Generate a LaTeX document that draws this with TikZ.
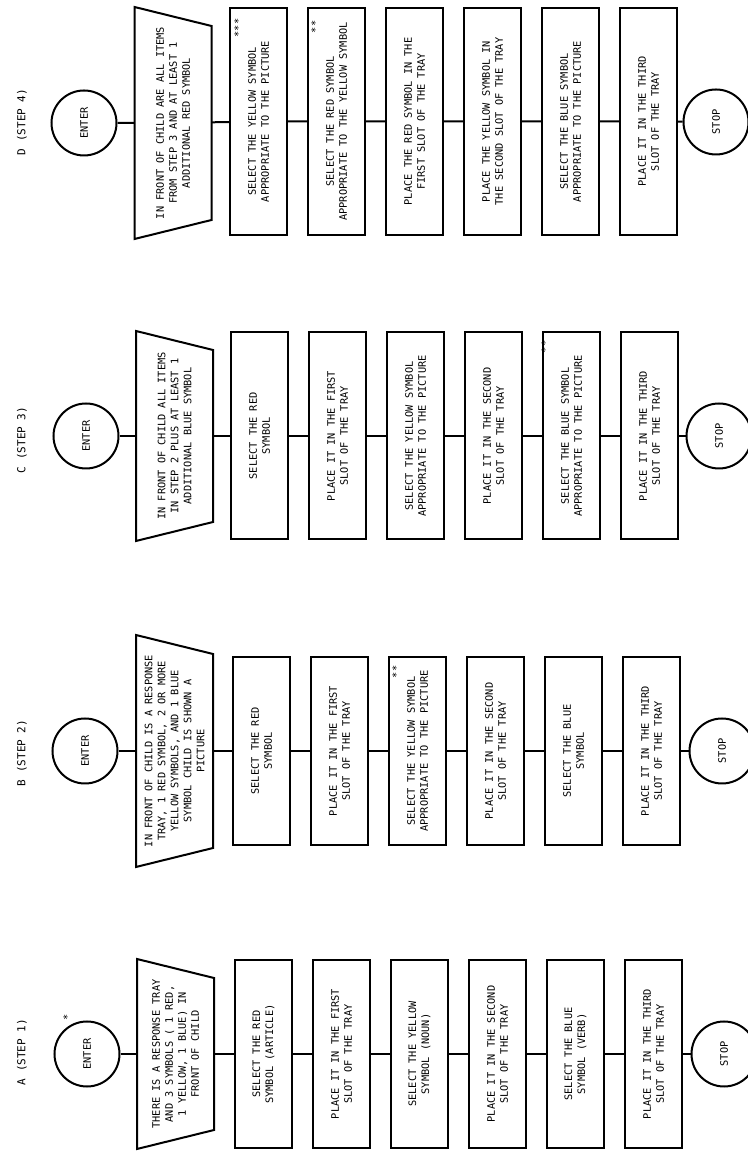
\documentclass[tikz,border=0pt]{standalone}
\usepackage{fontspec}
\newfontfamily\typefont{DejaVu Sans Mono}
\usepackage{tikz}
\usetikzlibrary{calc,positioning}

\begin{document}
\begin{tikzpicture}[
    x=1pt,
    y=1pt,
    rotate=90,
    transform shape,
    line width=2pt,
    node distance=19pt,
    every node/.style={font=\typefont\fontsize{10.3}{13}\selectfont,align=center},
    terminal/.style={draw,circle,minimum size=65pt,inner sep=0pt},
    stepbox/.style={draw,rectangle,minimum height=57pt,inner sep=2pt},
    inputbox/.style={rectangle,minimum height=75pt,inner sep=0pt},
    steptitle/.style={font=\typefont\fontsize{11}{13}\selectfont},
    starmark/.style={inner sep=0pt}
]

\useasboundingbox (0,0) rectangle (1151,-747);

% ---------------------------------------------------------
% A (Step 1)
% ---------------------------------------------------------

\node[steptitle] (titleA) at (99,-22) {A (STEP 1)};

\node[terminal] (enterA) at (97,-87) {ENTER};

\node[starmark] (starA) at (134,-67) {*};

\node[inputbox,minimum width=188pt] (inA) at (97,-175.5)
    {THERE IS A RESPONSE TRAY\\
     AND 3 SYMBOLS ( 1 RED,\\
     1 YELLOW, 1 BLUE) IN\\
     FRONT OF CHILD};

\node[stepbox,minimum width=188pt] (A1) at (97,-263.5)
    {SELECT THE RED\\ SYMBOL (ARTICLE)};
\node[stepbox,minimum width=188pt,below=of A1] (A2)
    {PLACE IT IN THE FIRST\\ SLOT OF THE TRAY};
\node[stepbox,minimum width=188pt,below=of A2] (A3)
    {SELECT THE YELLOW\\ SYMBOL (NOUN)};
\node[stepbox,minimum width=188pt,below=of A3] (A4)
    {PLACE IT IN THE SECOND\\ SLOT OF THE TRAY};
\node[stepbox,minimum width=188pt,below=of A4] (A5)
    {SELECT THE BLUE\\ SYMBOL (VERB)};
\node[stepbox,minimum width=188pt,below=of A5] (A6)
    {PLACE IT IN THE THIRD\\ SLOT OF THE TRAY};

\node[terminal] (stopA) at (97,-724) {STOP};

% ---------------------------------------------------------
% B (Step 2)
% ---------------------------------------------------------

\node[steptitle] (titleB) at (398,-22) {B (STEP 2)};

\node[terminal] (enterB) at (400,-85) {ENTER};

\node[inputbox,minimum width=230pt] (inB) at (400,-174.5)
    {IN FRONT OF CHILD IS A RESPONSE\\
     TRAY, 1 RED SYMBOL, 2 OR MORE\\
     YELLOW SYMBOLS, AND 1 BLUE\\
     SYMBOL CHILD IS SHOWN A\\
     PICTURE};

\node[stepbox,minimum width=188pt] (B1) at (400,-261.5)
    {SELECT THE RED\\ SYMBOL};
\node[stepbox,minimum width=188pt,below=of B1] (B2)
    {PLACE IT IN THE FIRST\\ SLOT OF THE TRAY};
\node[stepbox,minimum width=188pt,below=of B2] (B3)
    {SELECT THE YELLOW SYMBOL\\ APPROPRIATE TO THE PICTURE};
\node[stepbox,minimum width=188pt,below=of B3] (B4)
    {PLACE IT IN THE SECOND\\ SLOT OF THE TRAY};
\node[stepbox,minimum width=188pt,below=of B4] (B5)
    {SELECT THE BLUE\\ SYMBOL};
\node[stepbox,minimum width=188pt,below=of B5] (B6)
    {PLACE IT IN THE THIRD\\ SLOT OF THE TRAY};

\node[starmark] (starB) at (479,-396) {**};

\node[terminal] (stopB) at (400,-722) {STOP};

% ---------------------------------------------------------
% C (Step 3)
% ---------------------------------------------------------

\node[steptitle] (titleC) at (711,-22) {C (STEP 3)};

\node[terminal] (enterC) at (715,-86) {ENTER};

\node[inputbox,minimum width=208pt] (inC) at (715,-174.5)
    {IN FRONT OF CHILD ALL ITEMS\\
     IN STEP 2 PLUS AT LEAST 1\\
     ADDITIONAL BLUE SYMBOL};

\node[stepbox,minimum width=207pt] (C1) at (715,-259.5)
    {SELECT THE RED\\ SYMBOL};
\node[stepbox,minimum width=207pt,below=of C1] (C2)
    {PLACE IT IN THE FIRST\\ SLOT OF THE TRAY};
\node[stepbox,minimum width=207pt,below=of C2] (C3)
    {SELECT THE YELLOW SYMBOL\\ APPROPRIATE TO THE PICTURE};
\node[stepbox,minimum width=207pt,below=of C3] (C4)
    {PLACE IT IN THE SECOND\\ SLOT OF THE TRAY};
\node[stepbox,minimum width=207pt,below=of C4] (C5)
    {SELECT THE BLUE SYMBOL\\ APPROPRIATE TO THE PICTURE};
\node[stepbox,minimum width=207pt,below=of C5] (C6)
    {PLACE IT IN THE THIRD\\ SLOT OF THE TRAY};

\node[starmark] (starC) at (804,-545) {**};

\node[terminal] (stopC) at (715,-719) {STOP};

% ---------------------------------------------------------
% D (Step 4)
% ---------------------------------------------------------

\node[steptitle] (titleD) at (1029,-22) {D (STEP 4)};

\node[terminal] (enterD) at (1028,-84) {ENTER};

\node[inputbox,minimum width=230pt] (inD) at (1028,-173)
    {IN FRONT OF CHILD ARE ALL ITEMS\\
     FROM STEP 3 AND AT LEAST 1\\
     ADDITIONAL RED SYMBOL};

\node[stepbox,minimum width=227pt] (D1) at (1029.5,-258.5)
    {SELECT THE YELLOW SYMBOL\\ APPROPRIATE TO THE PICTURE};
\node[stepbox,minimum width=227pt,below=of D1] (D2)
    {SELECT THE RED SYMBOL\\ APPROPRIATE TO THE YELLOW SYMBOL};
\node[stepbox,minimum width=227pt,below=of D2] (D3)
    {PLACE THE RED SYMBOL IN THE\\ FIRST SLOT OF THE TRAY};
\node[stepbox,minimum width=227pt,below=of D3] (D4)
    {PLACE THE YELLOW SYMBOL IN\\ THE SECOND SLOT OF THE TRAY};
\node[stepbox,minimum width=227pt,below=of D4] (D5)
    {SELECT THE BLUE SYMBOL\\ APPROPRIATE TO THE PICTURE};
\node[stepbox,minimum width=227pt,below=of D5] (D6)
    {PLACE IT IN THE THIRD\\ SLOT OF THE TRAY};

\node[starmark] (starD1) at (1123,-238) {***};
\node[starmark] (starD2) at (1124,-315) {**};

\node[terminal] (stopD) at (1029,-716) {STOP};

% ---------------------------------------------------------
% Input trapezoids and flow lines
% ---------------------------------------------------------

\foreach \col in {A,B,C,D}{
    \draw (in\col.north west) -- (in\col.north east)
        -- ($(in\col.south east)+(-19,0)$)
        -- ($(in\col.south west)+(19,0)$) -- cycle;
    \draw (enter\col) -- (in\col) -- (\col1) -- (\col2) -- (\col3)
        -- (\col4) -- (\col5) -- (\col6) -- (stop\col);
}

\end{tikzpicture}
\end{document}
